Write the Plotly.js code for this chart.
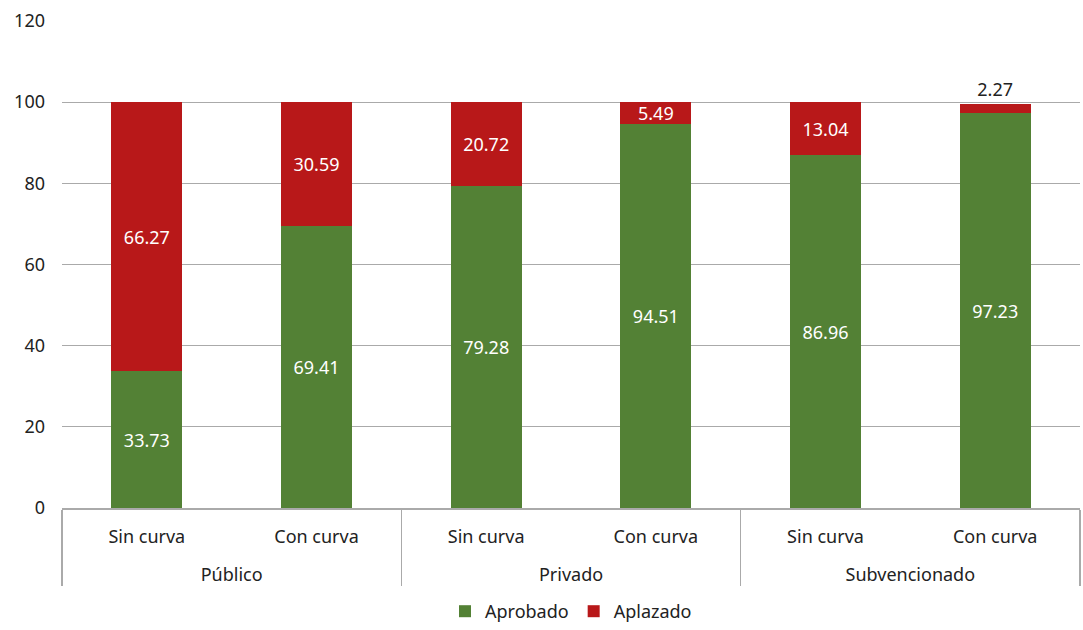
<!DOCTYPE html>
<html>
<head>
<meta charset="utf-8">
<script src="https://cdn.plot.ly/plotly-3.0.1.min.js"></script>
<style>html,body{margin:0;padding:0;background:#fff;}#chart{width:1083px;height:630px;}</style>
</head>
<body>
<div id="chart"></div>
<script>
var groups = ["Público", "Público", "Privado", "Privado", "Subvencionado", "Subvencionado"];
var subcats = ["Sin curva", "Con curva", "Sin curva", "Con curva", "Sin curva", "Con curva"];
var aprobado = [33.73, 69.41, 79.28, 94.51, 86.96, 97.23];
var aplazado = [66.27, 30.59, 20.72, 5.49, 13.04, 2.27];
var yTicks = [0, 20, 40, 60, 80, 100, 120];

var font = "Noto Sans, Open Sans, sans-serif";
var fmt = function (v) { return v.toFixed(2); };
// group labels pushed down by a blank first line to mimic the reference spacing
var xGroups = groups.map(function (g) { return "<br>" + g; });

var traces = [
  {
    type: "bar", name: "Aprobado",
    x: [xGroups, subcats], y: aprobado,
    marker: { color: "#538135" },
    text: aprobado.map(fmt), textposition: "inside", insidetextanchor: "middle",
    textfont: { color: "#ffffff", size: 18, family: font },
    constraintext: "none", hoverinfo: "none"
  },
  {
    type: "bar", name: "Aplazado",
    x: [xGroups, subcats], y: aplazado,
    marker: { color: "#b81819" },
    text: aplazado.map(fmt),
    textposition: aplazado.map(function (v) { return v < 3 ? "outside" : "inside"; }),
    insidetextanchor: "middle",
    textfont: { color: aplazado.map(function (v) { return v < 3 ? "#222222" : "#ffffff"; }), size: 18, family: font },
    outsidetextfont: { color: "#222222", size: 18, family: font },
    insidetextfont: { color: "#ffffff", size: 18, family: font },
    constraintext: "none", cliponaxis: false, hoverinfo: "none"
  }
];

var layout = {
  width: 1083, height: 630,
  margin: { l: 62, r: 3, t: 21, b: 122 },
  barmode: "stack", bargap: 0.58,
  paper_bgcolor: "#ffffff", plot_bgcolor: "#ffffff",
  font: { family: font, color: "#222222", size: 18 },
  showlegend: true,
  legend: { orientation: "h", x: 0.5, xanchor: "center", yref: "container", y: 0, yanchor: "bottom",
            font: { size: 18, family: font, color: "#222222" }, itemwidth: 30, traceorder: "normal" },
  xaxis: {
    type: "multicategory", automargin: false,
    showline: true, linecolor: "#aaaaaa", linewidth: 1.5,
    showdividers: true, dividercolor: "#aaaaaa", dividerwidth: 1.5,
    ticks: "", tickfont: { size: 18, family: font, color: "#222222" },
    ticklabelstandoff: 12,
    showgrid: false
  },
  yaxis: {
    range: [0, 120], tickvals: yTicks, ticktext: yTicks.map(String),
    showgrid: true, gridcolor: "#aaaaaa", gridwidth: 1.2,
    zeroline: false, showline: false, ticks: "", automargin: false,
    tickfont: { size: 18, family: font, color: "#222222" },
    ticklabelstandoff: 16
  }
};

Plotly.newPlot("chart", traces, layout, { displayModeBar: false, staticPlot: true });
</script>
</body>
</html>
